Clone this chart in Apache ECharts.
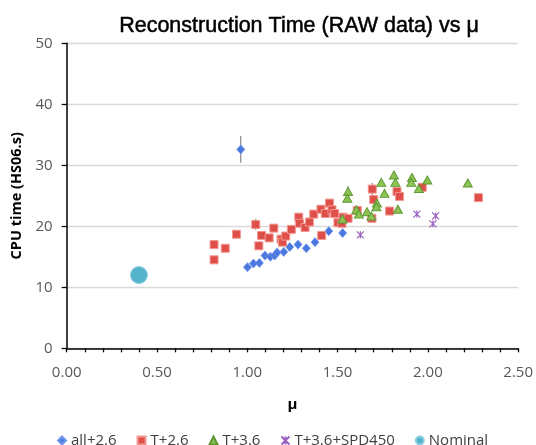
<!DOCTYPE html>
<html>
<head>
<meta charset="utf-8">
<script src="https://cdn.jsdelivr.net/npm/echarts@6/dist/echarts.min.js"></script>
<style>
html,body{margin:0;padding:0;background:#fff;}
#chart{width:536px;height:445px;}
</style>
</head>
<body>
<div id="chart"></div>
<script>
// ---- data ----
const titleText = 'Reconstruction Time (RAW data) vs \u03bc';
const xName = '\u03bc';
const yName = 'CPU time (HS06.s)';
const xTicks = [0, 0.5, 1.0, 1.5, 2.0, 2.5];
const yTicks = [0, 10, 20, 30, 40, 50];
const seriesNames = ['all+2.6', 'T+2.6', 'T+3.6', 'T+3.6+SPD450', 'Nominal'];

const all26 = [
  [0.964, 32.6], [1.001, 13.3], [1.034, 13.9], [1.067, 14.0], [1.098, 15.2],
  [1.128, 15.0], [1.152, 15.2], [1.165, 15.7], [1.202, 15.8], [1.235, 16.6],
  [1.281, 17.0], [1.327, 16.4], [1.375, 17.4], [1.451, 19.2], [1.528, 18.9]
];
const t26 = [
  [0.816, 17.0], [0.816, 14.5], [0.878, 16.4], [0.940, 18.7], [1.047, 20.3],
  [1.064, 16.8], [1.079, 18.5], [1.121, 18.1], [1.147, 19.7], [1.187, 17.9],
  [1.195, 17.4], [1.213, 18.4], [1.244, 19.5], [1.285, 21.5], [1.289, 20.5],
  [1.320, 19.8], [1.344, 20.7], [1.368, 22.0], [1.408, 22.8], [1.432, 22.1],
  [1.455, 23.8], [1.469, 22.7], [1.484, 22.1], [1.412, 18.5], [1.502, 20.6],
  [1.530, 21.5], [1.524, 20.5], [1.558, 21.3], [1.609, 22.6], [1.692, 26.1],
  [1.700, 24.4], [1.690, 21.3], [1.788, 22.5], [1.829, 25.7], [1.843, 24.9],
  [1.969, 26.4], [2.280, 24.7]
];
const t36 = [
  [1.558, 25.7], [1.554, 24.6], [1.527, 21.2], [1.604, 22.7], [1.618, 22.0],
  [1.663, 22.4], [1.687, 21.7], [1.718, 23.8], [1.715, 23.2], [1.742, 27.2],
  [1.760, 25.4], [1.812, 28.4], [1.820, 27.2], [1.834, 22.8], [1.912, 28.0],
  [1.908, 27.2], [1.950, 26.2], [1.997, 27.6], [2.221, 27.1]
];
const t36spd = [
  [1.626, 18.6], [1.939, 22.0], [2.043, 21.7], [2.028, 20.4]
];
const nominal = [
  [0.40, 12.0]
];
// error bars: [x, y, half-length]
const errorBars = [
  [0.964, 32.6, 2.2], [1.047, 20.3, 0.9], [1.692, 26.1, 1.0], [1.558, 25.7, 0.9]
];

// ---- chart ----
const chart = echarts.init(document.getElementById('chart'), null, {renderer: 'canvas'});
const tickFont = {fontFamily: 'Open Sans', fontSize: 15, color: '#595959'};
const starPath = 'path://M0,0L10,10M10,0L0,10M5,0L5,10';

const option = {
  animation: false,
  backgroundColor: '#ffffff',
  title: {
    text: titleText,
    left: 294, top: 10, textAlign: 'center',
    textStyle: {fontFamily: 'Liberation Sans', fontSize: 21.5, fontWeight: 'normal', color: '#000',
                textBorderColor: '#000', textBorderWidth: 0.5}
  },
  grid: {left: 66.7, right: 17.3, top: 43.3, bottom: 96.7, containLabel: false},
  legend: {
    data: seriesNames,
    top: 428, left: 52,
    itemWidth: 8, itemHeight: 8, itemGap: 20,
    textStyle: {fontFamily: 'Open Sans', fontSize: 15, color: '#404040'}
  },
  xAxis: {
    type: 'value',
    min: xTicks[0], max: xTicks[xTicks.length - 1], interval: xTicks[1] - xTicks[0],
    name: xName, nameLocation: 'middle', nameGap: 49,
    nameTextStyle: {fontFamily: 'Open Sans', fontSize: 15, fontWeight: 'bold', color: '#000'},
    axisLine: {show: true, onZero: false, lineStyle: {color: '#000', width: 1.5}},
    axisTick: {show: true, inside: false, length: 4, lineStyle: {color: '#000', width: 1.3}},
    minorTick: {show: true, splitNumber: 5, length: 4, lineStyle: {color: '#000', width: 1.3}},
    axisLabel: Object.assign({margin: 17, formatter: v => v.toFixed(2)}, tickFont),
    splitLine: {show: false}
  },
  yAxis: {
    type: 'value',
    min: yTicks[0], max: yTicks[yTicks.length - 1], interval: yTicks[1] - yTicks[0],
    name: yName, nameLocation: 'middle', nameGap: 33, nameRotate: 90,
    nameTextStyle: {fontFamily: 'Open Sans', fontSize: 14.5, fontWeight: 'bold', color: '#000'},
    axisLine: {show: true, lineStyle: {color: '#000', width: 1.5}},
    axisTick: {show: true, inside: false, length: 5, lineStyle: {color: '#000', width: 1.3}},
    axisLabel: Object.assign({margin: 14}, tickFont),
    splitLine: {show: true, lineStyle: {color: '#d9d9d9', width: 1.3}}
  },
  series: [
    {
      type: 'custom', name: 'err', z: 1, silent: true,
      data: errorBars,
      encode: {x: 0, y: 1},
      renderItem: function (params, api) {
        const x = api.value(0), y = api.value(1), e = api.value(2);
        const p1 = api.coord([x, y + e]);
        const p2 = api.coord([x, y - e]);
        return {type: 'line', shape: {x1: p1[0], y1: p1[1], x2: p2[0], y2: p2[1]},
                style: {stroke: '#707070', lineWidth: 1}};
      }
    },
    {
      type: 'scatter', name: seriesNames[0], z: 2, data: all26,
      symbol: 'diamond', symbolSize: [8, 9],
      itemStyle: {color: '#4a78e0', borderColor: '#6f95ec', borderWidth: 0.8, opacity: 1}
    },
    {
      type: 'scatter', name: seriesNames[1], z: 3, data: t26,
      symbol: 'rect', symbolSize: 8,
      itemStyle: {color: '#df4f49', borderColor: '#f29892', borderWidth: 1, opacity: 1}
    },
    {
      type: 'scatter', name: seriesNames[2], z: 4, data: t36,
      symbol: 'triangle', symbolSize: [9, 8],
      itemStyle: {color: '#8dc255', borderColor: '#5e9a33', borderWidth: 1, opacity: 1}
    },
    {
      type: 'scatter', name: seriesNames[3], z: 5, data: t36spd,
      symbol: starPath, symbolSize: 7,
      itemStyle: {color: '#9b62c0', borderColor: '#9b62c0', borderWidth: 1.2, opacity: 1}
    },
    {
      type: 'scatter', name: seriesNames[4], z: 6, data: nominal,
      symbol: 'circle', symbolSize: 17,
      itemStyle: {color: '#55b3cb', borderColor: '#8ccfe0', borderWidth: 1, opacity: 1}
    }
  ]
};
chart.setOption(option);
</script>
</body>
</html>
